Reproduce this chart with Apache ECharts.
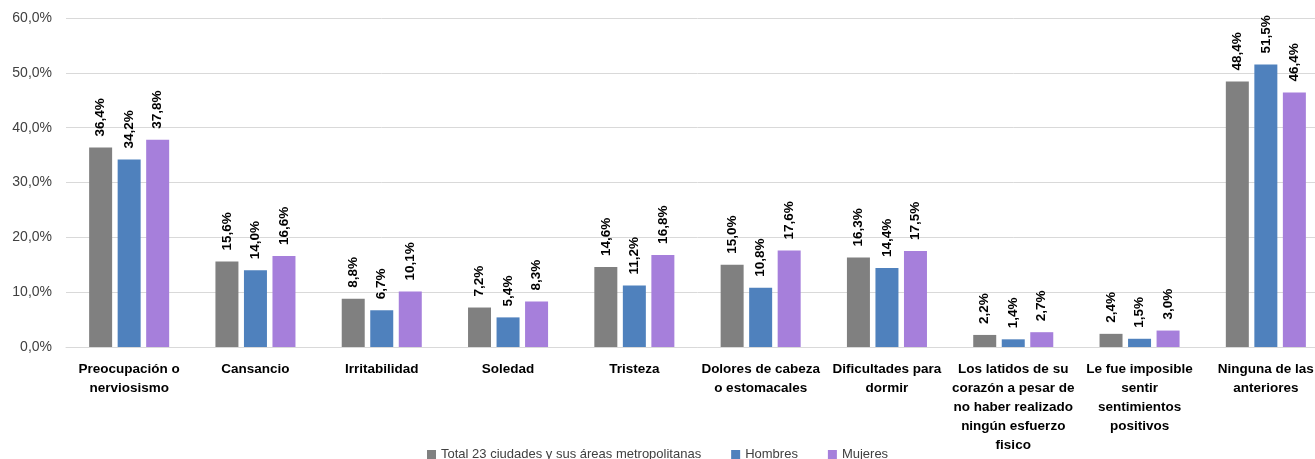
<!DOCTYPE html>
<html><head><meta charset="utf-8">
<script src="https://cdn.jsdelivr.net/npm/echarts@6/dist/echarts.min.js"></script>
<style>html,body{margin:0;padding:0;background:#fff;overflow:hidden;width:1315px;height:459px}#c{width:1330px;height:459px}</style>
</head><body><div id="c"></div>
<script>
var categories = ["Preocupación o\nnerviosismo","Cansancio","Irritabilidad","Soledad","Tristeza","Dolores de cabeza\no estomacales","Dificultades para\ndormir","Los latidos de su\ncorazón a pesar de\nno haber realizado\nningún esfuerzo\nfisico","Le fue imposible\nsentir\nsentimientos\npositivos","Ninguna de las\nanteriores"];
var seriesNames = ["Total 23 ciudades y sus áreas metropolitanas","Hombres","Mujeres"];
var total = [36.4,15.6,8.8,7.2,14.6,15.0,16.3,2.2,2.4,48.4];
var hombres = [34.2,14.0,6.7,5.4,11.2,10.8,14.4,1.4,1.5,51.5];
var mujeres = [37.8,16.6,10.1,8.3,16.8,17.6,17.5,2.7,3.0,46.4];
var colors = ["#808080","#4f81bd","#a67fdb"];
var font = "'Liberation Sans', Arial, sans-serif";
function fmt(v){return v.toFixed(1).replace('.',',')+'%';}
function mk(name,data,color){
  return {name:name,type:'bar',data:data,barWidth:23,barGap:'24%',
    itemStyle:{color:color},
    label:{show:true,position:'top',rotate:90,align:'left',verticalAlign:'middle',distance:11,
      fontFamily:font,fontWeight:'bold',fontSize:13.5,color:'#000',
      formatter:function(p){return fmt(p.value);}}};
}
var chart = echarts.init(document.getElementById('c'),null,{renderer:'canvas'});
chart.setOption({
  animation:false,
  color:colors,
  grid:{left:66,top:18,width:1263,height:329},
  legend:{bottom:-7,left:422,itemWidth:9,itemHeight:9,itemGap:30,icon:'rect',
    textStyle:{fontFamily:font,fontSize:13,color:'#404040'},data:seriesNames},
  xAxis:{type:'category',data:categories,
    axisLine:{lineStyle:{color:'#d9d9d9'}},axisTick:{show:false},
    axisLabel:{interval:0,margin:13,fontFamily:font,fontWeight:'bold',fontSize:13.5,color:'#000',lineHeight:19}},
  yAxis:{type:'value',min:0,max:60,interval:10,
    axisLine:{show:false},axisTick:{show:false},
    splitLine:{lineStyle:{color:'#d9d9d9'}},
    axisLabel:{margin:14,fontFamily:font,fontSize:14,color:'#404040',formatter:function(v){return fmt(v);}}},
  series:[mk(seriesNames[0],total,colors[0]),mk(seriesNames[1],hombres,colors[1]),mk(seriesNames[2],mujeres,colors[2])]
});
</script></body></html>
